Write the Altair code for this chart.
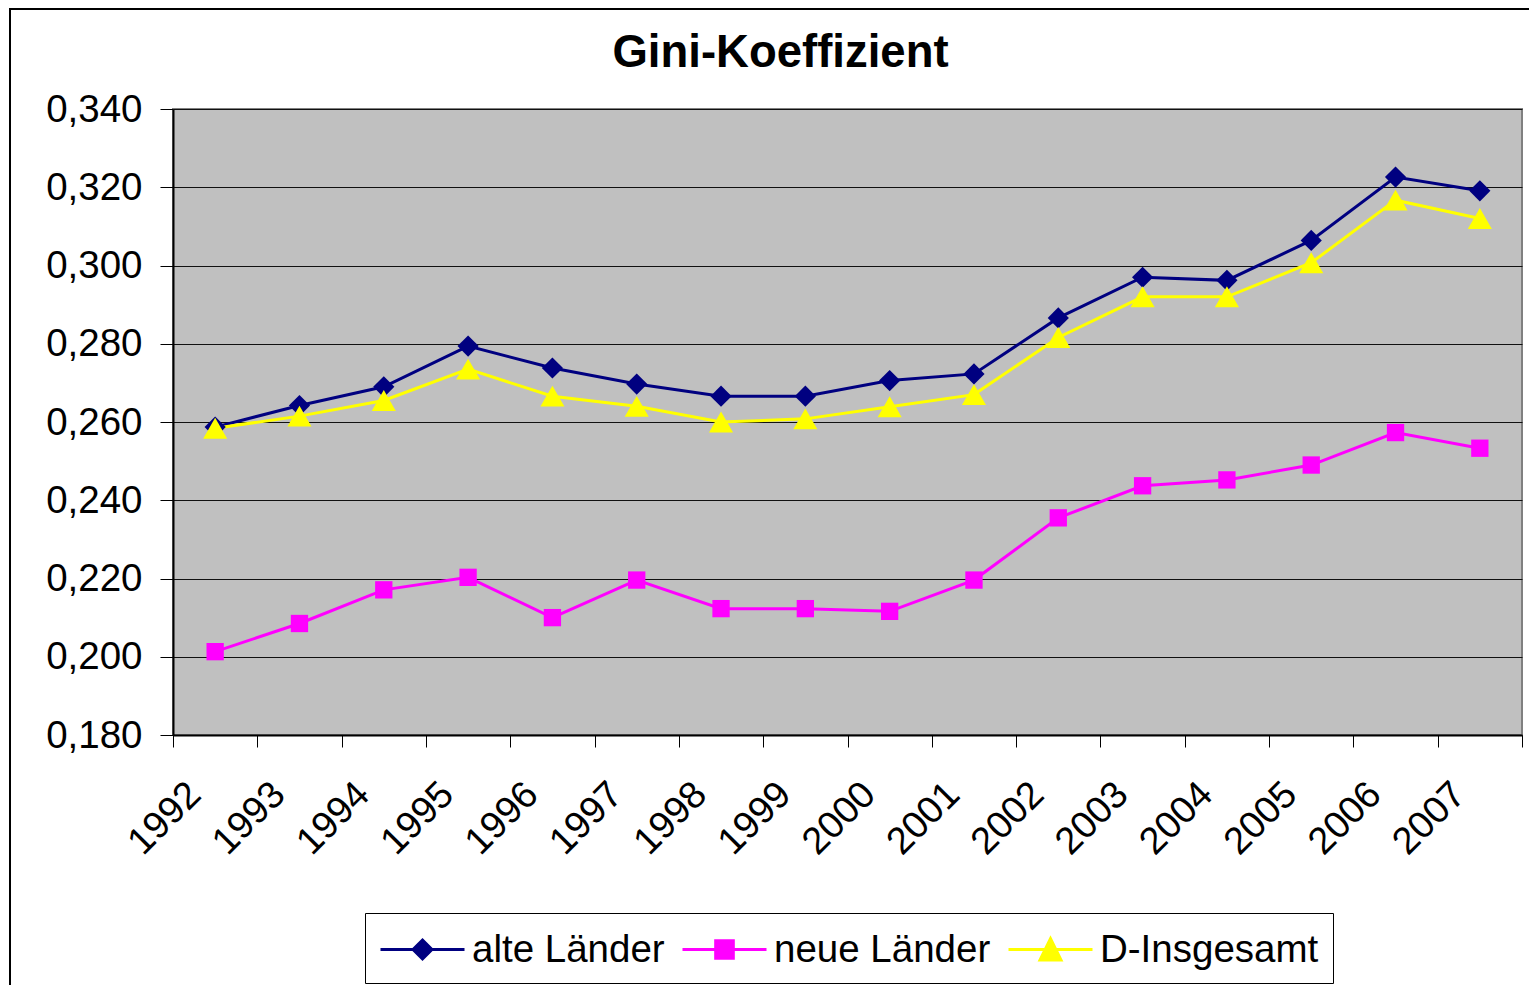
import altair as alt
import pandas as pd

years = [str(y) for y in range(1992, 2008)]
series_names = ["alte Länder", "neue Länder", "D-Insgesamt"]
alte = [0.2587, 0.2642, 0.2690, 0.2794, 0.2738, 0.2697, 0.2666, 0.2666,
        0.2706, 0.2723, 0.2866, 0.2970, 0.2962, 0.3064, 0.3226, 0.3191]
neue = [0.2013, 0.2085, 0.2171, 0.2203, 0.2100, 0.2196, 0.2123, 0.2123,
        0.2116, 0.2196, 0.2355, 0.2437, 0.2452, 0.2490, 0.2573, 0.2533]
gesamt = [0.2584, 0.2615, 0.2655, 0.2735, 0.2666, 0.2640, 0.2600, 0.2608,
          0.2639, 0.2670, 0.2816, 0.2920, 0.2920, 0.3007, 0.3167, 0.3120]
colors = ["#000080", "#FF00FF", "#FFFF00"]
y_ticks = [0.18, 0.20, 0.22, 0.24, 0.26, 0.28, 0.30, 0.32, 0.34]

rows = []
for name, vals in zip(series_names, [alte, neue, gesamt]):
    for yr, v in zip(years, vals):
        rows.append({"Jahr": yr, "Serie": name, "Wert": v})
df = pd.DataFrame(rows)

FONT = "Liberation Sans"
W, H = 1349, 626

xenc = alt.X("Jahr:O", bandPosition=0.5,
             scale=alt.Scale(type="band", paddingInner=0, paddingOuter=0),
             axis=alt.Axis(title=None, tickBand="extent", labelAngle=-45,
                           labelFontSize=38, labelFont=FONT, labelColor="black",
                           tickSize=12, tickColor="black", tickWidth=1,
                           domainColor="black", domainWidth=2,
                           labelPadding=28, labelOffset=-34, grid=False))
yenc = alt.Y("Wert:Q", scale=alt.Scale(domain=[0.18, 0.34], nice=False, zero=False),
             axis=alt.Axis(title=None, values=y_ticks,
                           labelExpr="replace(format(datum.value, '.3f'), '.', ',')",
                           labelFontSize=38.5, labelFont=FONT, labelColor="black",
                           tickSize=13, tickColor="black", tickWidth=1,
                           domainColor="black", domainWidth=2, labelPadding=18,
                           grid=True, gridColor="#111111", gridWidth=1))

color_scale = alt.Scale(domain=series_names, range=colors)

border = alt.Chart(pd.DataFrame({"a": [0]})).mark_rect(
    fill=None, stroke="black", strokeWidth=2, clip=False
).encode(x=alt.value(-163), x2=alt.value(W + 60), y=alt.value(-100), y2=alt.value(H + 300))

lines = alt.Chart(df).mark_line(strokeWidth=3).encode(
    x=xenc, y=yenc,
    color=alt.Color("Serie:N", scale=color_scale, legend=None),
    detail="Serie:N",
)

marker_specs = [("alte Länder", "diamond", 450), ("neue Länder", "square", 300),
                ("D-Insgesamt", "triangle-up", 580)]
point_layers = []
for name, shp, sz in marker_specs:
    point_layers.append(
        alt.Chart(df).transform_filter(alt.datum.Serie == name)
        .mark_point(filled=True, opacity=1, strokeWidth=0, shape=shp, size=sz)
        .encode(x=xenc, y=yenc,
                color=alt.Color("Serie:N", scale=color_scale, legend=None))
    )

legend_paths = [
    "M-1,0H3M1,-0.45L1.45,0L1,0.45L0.55,0Z",
    "M-1,0H3M0.58,-0.42H1.42V0.42H0.58Z",
    "M-1,0H3M1,-0.52L1.5,0.5L0.5,0.5Z",
]
color_expr = " : ".join(
    f"datum.value === '{n}' ? '{c}'" for n, c in zip(series_names[:-1], colors[:-1])
) + f" : '{colors[-1]}'"

leg = alt.Legend(title=None, orient="none", legendX=192, legendY=804,
                 direction="horizontal", columns=3, labelFontSize=38.5, labelFont=FONT,
                 labelColor="black", symbolSize=1764, symbolStrokeWidth=3,
                 symbolOpacity=1, labelOffset=48, columnPadding=11, padding=14,
                 strokeColor="black", fillColor="white", labelLimit=400)

legend_layer = alt.Chart(df).mark_point(
    filled=True, opacity=0, fill={"expr": color_expr}, stroke={"expr": color_expr}
).encode(
    x=xenc, y=yenc,
    shape=alt.Shape("Serie:N", scale=alt.Scale(domain=series_names, range=legend_paths),
                    legend=leg),
)

chart = alt.layer(border, legend_layer, lines, *point_layers).properties(
    width=W, height=H,
    title=alt.Title("Gini-Koeffizient", fontSize=45.5, font=FONT, fontWeight="bold",
                    color="black", anchor="middle", dx=-67, offset=-104,
                    baseline="alphabetic"),
    autosize=alt.AutoSizeParams(type="none"),
    padding={"left": 165, "top": 101, "right": 7, "bottom": 250},
    background="white",
).configure_view(
    fill="#C0C0C0", stroke="#808080", strokeWidth=2
)

chart.save("out.html", embed_options={"renderer": "svg", "actions": False})
